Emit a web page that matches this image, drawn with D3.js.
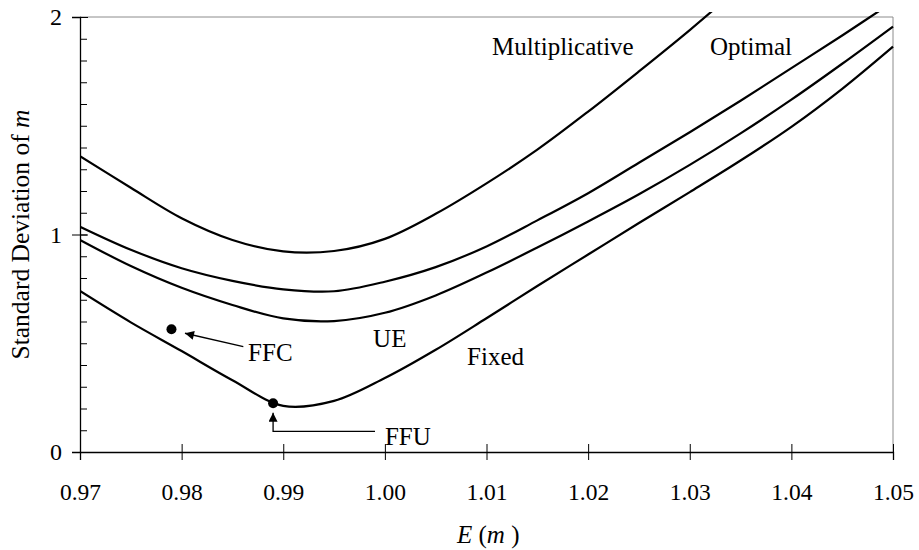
<!DOCTYPE html>
<html>
<head>
<meta charset="utf-8">
<script src="https://cdn.jsdelivr.net/npm/d3@7"></script>
<style>
    html, body { margin: 0; padding: 0; background: #fff; }
    svg { display: block; font-family: "Liberation Serif", "Times New Roman", serif; }
</style>
</head>
<body>
<div id="chart"></div>
<script>
// E(m) grid shared by all curves
const eM = [0.970, 0.975, 0.980, 0.985, 0.990, 0.995, 1.000, 1.005, 1.010,
            1.015, 1.020, 1.025, 1.030, 1.035, 1.040, 1.045, 1.050];

const multiplicative = [1.36, 1.215, 1.075, 0.975, 0.922, 0.924, 0.98, 1.095, 1.235,
                        1.39, 1.565, 1.75, 1.94, 2.14, 2.34, 2.54, 2.74];
const optimal = [1.036, 0.93, 0.845, 0.787, 0.748, 0.739, 0.783, 0.85, 0.945,
                 1.065, 1.19, 1.33, 1.47, 1.615, 1.765, 1.915, 2.07];
const ue = [0.975, 0.855, 0.755, 0.676, 0.614, 0.602, 0.64, 0.72, 0.825,
            0.94, 1.06, 1.185, 1.32, 1.465, 1.62, 1.785, 1.956];
const fixed = [0.740, 0.596, 0.464, 0.33, 0.212, 0.235, 0.34, 0.47, 0.615,
               0.763, 0.908, 1.053, 1.195, 1.34, 1.495, 1.67, 1.864];

const seriesNames = ['Multiplicative', 'Optimal', 'UE', 'Fixed'];
const seriesValues = [multiplicative, optimal, ue, fixed];

// single points
const pointNames = ['FFC', 'FFU'];
const pointX = [0.979, 0.989];
const pointY = [0.564, 0.224];

const xTicks = [0.97, 0.98, 0.99, 1.00, 1.01, 1.02, 1.03, 1.04, 1.05];
const yTicks = [0, 1, 2];

const W = 919, H = 550;
const margin = {top: 17, right: 26, bottom: 98, left: 80};
const width = W - margin.left - margin.right;
const height = H - margin.top - margin.bottom;

const svg = d3.select('#chart').append('svg')
    .attr('width', W)
    .attr('height', H);

const g = svg.append('g')
    .attr('transform', `translate(${margin.left},${margin.top})`);

const x = d3.scaleLinear().domain([0.97, 1.05]).range([0, width]);
const y = d3.scaleLinear().domain([0, 2]).range([height, 0]);

// frame top / right
g.append('path')
    .attr('d', `M0,0H${width}V${height}`)
    .attr('fill', 'none')
    .attr('stroke', '#8c8c8c')
    .attr('stroke-width', 1);

// clip so curves stop a little above the frame like the original
svg.append('clipPath').attr('id', 'clip')
    .append('rect')
    .attr('x', 0).attr('y', -5)
    .attr('width', width + 2).attr('height', height + 5);

const line = d3.line()
    .x(d => x(d[0]))
    .y(d => y(d[1]))
    .curve(d3.curveCatmullRom.alpha(0.5));

g.append('g')
    .attr('clip-path', 'url(#clip)')
    .selectAll('path')
    .data(seriesValues)
    .enter().append('path')
    .attr('d', vals => line(eM.map((e, i) => [e, vals[i]])))
    .attr('fill', 'none')
    .attr('stroke', '#000')
    .attr('stroke-width', 2.2)
    .attr('stroke-linejoin', 'round');

// minor y ticks (inside)
g.append('g')
    .call(d3.axisLeft(y).tickValues(d3.range(0, 21).map(i => i / 10)).tickSize(-7).tickFormat(''))
    .call(a => a.select('.domain').remove())
    .selectAll('line').attr('stroke', '#000');

// y axis
const yAxis = g.append('g')
    .call(d3.axisLeft(y).tickValues(yTicks).tickFormat(d3.format('d')).tickSize(8));
yAxis.select('.domain').attr('stroke', '#000').attr('stroke-width', 1.3);
yAxis.selectAll('.tick line').attr('x1', 8).attr('x2', -8).attr('stroke', '#000');
yAxis.selectAll('.tick text')
    .attr('x', -18)
    .attr('dy', '0.33em')
    .style('font-size', '24px')
    .style('font-family', '"Liberation Serif", serif')
    .attr('fill', '#000');

// x axis
const xAxis = g.append('g')
    .attr('transform', `translate(0,${height})`)
    .call(d3.axisBottom(x).tickValues(xTicks).tickFormat(d3.format('.2f')).tickSize(8));
xAxis.select('.domain').attr('stroke', '#000').attr('stroke-width', 1.3);
xAxis.selectAll('.tick line').attr('y1', -8).attr('y2', 8).attr('stroke', '#000');
xAxis.selectAll('.tick text')
    .attr('y', 48)
    .attr('dy', null)
    .style('font-size', '23.5px')
    .style('font-family', '"Liberation Serif", serif')
    .attr('fill', '#000');

// axis titles
const yTitle = svg.append('text')
    .attr('transform', `translate(29,${margin.top + height / 2}) rotate(-90)`)
    .attr('text-anchor', 'middle')
    .style('font-size', '25.5px');
yTitle.append('tspan').text('Standard Deviation of ');
yTitle.append('tspan').style('font-style', 'italic').text('m');

const xTitle = svg.append('text')
    .attr('x', 457)
    .attr('y', 543)
    .style('font-size', '25px');
xTitle.append('tspan').style('font-style', 'italic').text('E');
xTitle.append('tspan').text(' (');
xTitle.append('tspan').style('font-style', 'italic').text('m');
xTitle.append('tspan').text(' )');

// curve labels
const curveLabels = [
    {text: 'Multiplicative', x: 1.01055, y: 1.825},
    {text: 'Optimal', x: 1.0320, y: 1.825},
    {text: 'UE', x: 0.99884, y: 0.483},
    {text: 'Fixed', x: 1.00809, y: 0.400},
    {text: 'FFC', x: 0.98654, y: 0.420},
    {text: 'FFU', x: 1.0000, y: 0.032}
];
g.append('g')
    .selectAll('text')
    .data(curveLabels)
    .enter().append('text')
    .attr('x', d => x(d.x))
    .attr('y', d => y(d.y))
    .style('font-size', '25px')
    .text(d => d.text);

// points
g.append('g')
    .selectAll('circle')
    .data(pointNames)
    .enter().append('circle')
    .attr('cx', (d, i) => x(pointX[i]))
    .attr('cy', (d, i) => y(pointY[i]))
    .attr('r', 5)
    .attr('fill', '#000');

// arrows
svg.append('defs').append('marker')
    .attr('id', 'head')
    .attr('viewBox', '0 0 10 10')
    .attr('refX', 10).attr('refY', 5)
    .attr('markerWidth', 10).attr('markerHeight', 9)
    .attr('markerUnits', 'userSpaceOnUse')
    .attr('orient', 'auto')
    .append('path')
    .attr('d', 'M0,0L10,5L0,10Z')
    .attr('fill', '#000');

const arrows = [
    [[0.98607, 0.484], [0.98033, 0.546]],
    [[0.99903, 0.095], [0.989, 0.095], [0.989, 0.181]]
];
g.append('g')
    .selectAll('path')
    .data(arrows)
    .enter().append('path')
    .attr('d', d => d3.line().x(p => x(p[0])).y(p => y(p[1]))(d))
    .attr('fill', 'none')
    .attr('stroke', '#000')
    .attr('stroke-width', 1.3)
    .attr('marker-end', 'url(#head)');
</script>
</body>
</html>
